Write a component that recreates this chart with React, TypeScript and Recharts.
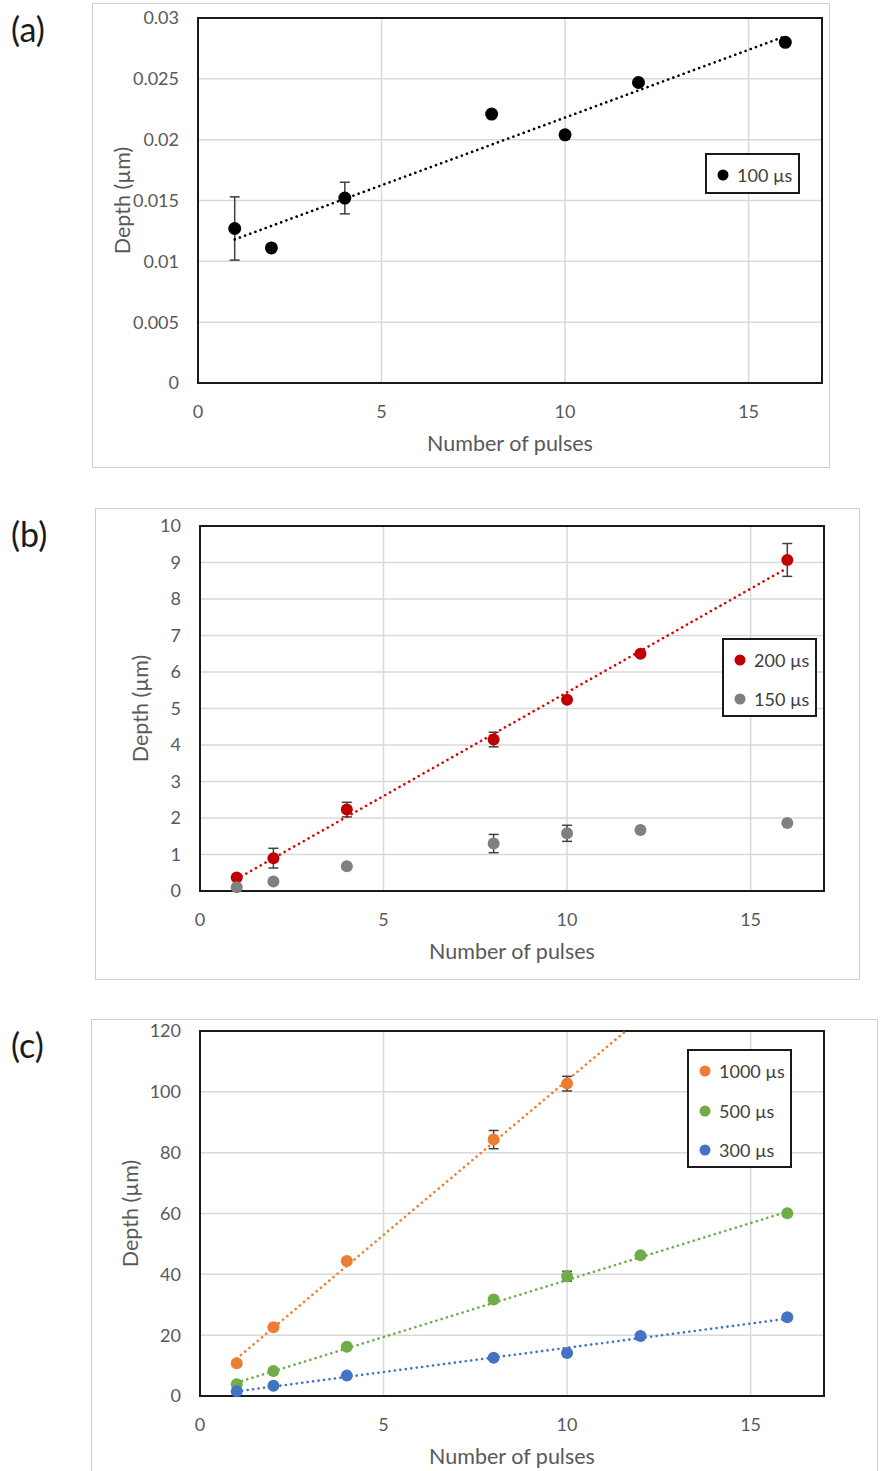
import React from "react";
import {
  ScatterChart,
  Scatter,
  XAxis,
  YAxis,
  CartesianGrid,
  ErrorBar,
  ReferenceArea,
  Legend,
  Label,
} from "recharts";

// pulse counts used in every panel
const pulses = [1, 2, 4, 8, 10, 12, 16];
const pulses1000 = [1, 2, 4, 8, 10];
const xTicks = [0, 5, 10, 15];

// (a) 100 µs
const depth100 = [0.0127, 0.0111, 0.0152, 0.0221, 0.0204, 0.0247, 0.028];
const err100 = [0.0026, 0, 0.0013, 0, 0, 0, 0];
const yTicksA = [0, 0.005, 0.01, 0.015, 0.02, 0.025, 0.03];

// (b) 200 µs / 150 µs
const depth200 = [0.37, 0.9, 2.23, 4.15, 5.24, 6.5, 9.07];
const err200 = [0, 0.27, 0.2, 0.2, 0, 0, 0.45];
const depth150 = [0.1, 0.26, 0.68, 1.3, 1.58, 1.67, 1.86];
const err150 = [0, 0, 0, 0.25, 0.22, 0, 0];
const yTicksB = [0, 1, 2, 3, 4, 5, 6, 7, 8, 9, 10];

// (c) 1000 µs / 500 µs / 300 µs
const depth1000 = [10.8, 22.6, 44.4, 84.3, 102.7];
const err1000 = [0, 0, 0, 3, 2.4];
const depth500 = [3.9, 8.2, 16.2, 31.7, 39.4, 46.3, 60.1];
const err500 = [0, 0, 0, 0, 1.6, 0, 0];
const depth300 = [1.6, 3.4, 6.7, 12.6, 14.1, 19.7, 25.9];
const err300 = [0, 0, 0, 0, 0.8, 0, 0];
const yTicksC = [0, 20, 40, 60, 80, 100, 120];

// linear trendline end points
const trendX = [1, 16];
const trend100 = [0.0118, 0.0285];
const trend200 = [0.33, 8.85];
const trend1000X = [1, 11.6];
const trend1000 = [12.3, 120];
const trend500 = [4.4, 60.6];
const trend300 = [1.5, 25.4];

const FONT = "Lato, 'Open Sans', sans-serif";
const TEXT = "#595959";

const rows = (xs: number[], ys: number[], errs?: number[]) =>
  xs.map((x, i) => ({ x, y: ys[i], err: errs ? errs[i] : 0 }));

type Series = { name: string; color: string; data: any[] };
type Trend = { color: string; data: any[] };

type PanelProps = {
  tag: string;
  left: number;
  top: number;
  width: number;
  height: number;
  yWidth: number;
  xHeight: number;
  mTop: number;
  mRight: number;
  yTicks: number[];
  yTitleX: number;
  dotR: number;
  series: Series[];
  trends: Trend[];
  legend: { left: number; top: number; width: number; height: number; first: number; step: number };
};

function Panel(p: PanelProps) {
  const yMax = p.yTicks[p.yTicks.length - 1];
  const order = p.series.map((s) => s.name);

  const renderLegend = (props: any) => {
    const items = (props.payload || [])
      .filter((it: any) => it.type !== "none" && order.includes(it.value))
      .sort((a: any, b: any) => order.indexOf(a.value) - order.indexOf(b.value));
    return (
      <div
        style={{
          position: "relative",
          width: p.legend.width,
          height: p.legend.height,
          border: "2px solid #1a1a1a",
          boxSizing: "border-box",
          background: "#fff",
          fontFamily: FONT,
          fontSize: 18,
          color: "#404040",
        }}
      >
        {items.map((it: any, i: number) => (
          <div
            key={it.value}
            style={{
              position: "absolute",
              left: 0,
              top: p.legend.first + i * p.legend.step - 12,
              height: 24,
              display: "flex",
              alignItems: "center",
            }}
          >
            <svg width={30} height={24} style={{ display: "block" }}>
              <circle cx={16} cy={12} r={5.5} fill={it.color} />
            </svg>
            <span style={{ whiteSpace: "nowrap" }}>{it.value}</span>
          </div>
        ))}
      </div>
    );
  };

  return (
    <>
      <div
        style={{
          position: "absolute",
          left: 11,
          top: p.top + 6,
          fontFamily: FONT,
          fontSize: 34,
          lineHeight: "40px",
          color: "#1a1a1a",
        }}
      >
        {p.tag}
      </div>
      <div
        style={{
          position: "absolute",
          left: p.left,
          top: p.top,
          width: p.width,
          height: p.height,
          border: "1px solid #d0d0d0",
          boxSizing: "border-box",
        }}
      >
        <div style={{ position: "absolute", left: -1, top: -1 }}>
          <ScatterChart
            width={p.width}
            height={p.height}
            margin={{ top: p.mTop, right: p.mRight, bottom: 0, left: 0 }}
            style={{ fontFamily: FONT }}
          >
            <CartesianGrid stroke="#d9d9d9" strokeWidth={1.5} />
            <XAxis
              type="number"
              dataKey="x"
              domain={[0, 17]}
              ticks={xTicks}
              height={p.xHeight}
              axisLine={false}
              tickLine={false}
              tickSize={0}
              tickMargin={22}
              tick={{ fill: TEXT, fontSize: 18, fontFamily: FONT }}
            >
              <Label
                value="Number of pulses"
                position="insideTop"
                offset={53}
                style={{ fill: TEXT, fontSize: 21.5, fontFamily: FONT }}
              />
            </XAxis>
            <YAxis
              type="number"
              dataKey="y"
              domain={[0, yMax]}
              ticks={p.yTicks}
              width={p.yWidth}
              axisLine={false}
              tickLine={false}
              tickSize={0}
              tickMargin={19}
              interval={0}
              tickFormatter={(v: number) => String(v)}
              tick={{ fill: TEXT, fontSize: 18, fontFamily: FONT }}
            >
              <Label
                value="Depth (µm)"
                angle={-90}
                position="insideLeft"
                offset={p.yTitleX}
                style={{ fill: TEXT, fontSize: 21.5, fontFamily: FONT, textAnchor: "middle" }}
              />
            </YAxis>
            <Legend
              layout="horizontal"
              verticalAlign="middle"
              align="center"
              content={renderLegend}
              wrapperStyle={{
                left: p.legend.left,
                top: p.legend.top,
                width: p.legend.width,
                height: p.legend.height,
              }}
            />
            {p.trends.map((t, i) => (
              <Scatter
                key={"trend" + i}
                data={t.data}
                legendType="none"
                isAnimationActive={false}
                fill={t.color}
                line={{
                  stroke: t.color,
                  strokeWidth: 2.6,
                  strokeDasharray: "0.1 5.4",
                  strokeLinecap: "round",
                }}
                shape={() => <g />}
              />
            ))}
            {p.series.map((s) => (
              <Scatter
                key={s.name}
                name={s.name}
                data={s.data}
                fill={s.color}
                isAnimationActive={false}
                shape={(props: any) => (
                  <circle cx={props.cx} cy={props.cy} r={p.dotR} fill={s.color} />
                )}
              >
                <ErrorBar
                  dataKey="err"
                  direction="y"
                  width={5}
                  stroke="#404040"
                  strokeWidth={1.5}
                  isAnimationActive={false}
                />
              </Scatter>
            ))}
            <ReferenceArea
              x1={0}
              x2={17}
              y1={0}
              y2={yMax}
              fill="none"
              fillOpacity={0}
              stroke="#1a1a1a"
              strokeWidth={2}
            />
          </ScatterChart>
        </div>
      </div>
    </>
  );
}

export default function App() {
  return (
    <div
      style={{
        position: "absolute",
        left: 0,
        top: 0,
        width: 883,
        height: 1471,
        overflow: "hidden",
        background: "#fff",
      }}
    >
      <Panel
        tag="(a)"
        left={92}
        top={3}
        width={738}
        height={465}
        yWidth={106}
        xHeight={85}
        mTop={15}
        mRight={8}
        yTicks={yTicksA}
        yTitleX={30}
        dotR={6.5}
        series={[{ name: "100 µs", color: "#000000", data: rows(pulses, depth100, err100) }]}
        trends={[{ color: "#000000", data: rows(trendX, trend100) }]}
        legend={{ left: 613, top: 150, width: 95, height: 41, first: 20, step: 40 }}
      />
      <Panel
        tag="(b)"
        left={95}
        top={508}
        width={765}
        height={472}
        yWidth={105}
        xHeight={89}
        mTop={18}
        mRight={36}
        yTicks={yTicksB}
        yTitleX={45}
        dotR={6}
        series={[
          { name: "200 µs", color: "#c00000", data: rows(pulses, depth200, err200) },
          { name: "150 µs", color: "#808080", data: rows(pulses, depth150, err150) },
        ]}
        trends={[{ color: "#e00000", data: rows(trendX, trend200) }]}
        legend={{ left: 627, top: 130, width: 95, height: 79, first: 20, step: 39 }}
      />
      <Panel
        tag="(c)"
        left={91}
        top={1019}
        width={787}
        height={453}
        yWidth={109}
        xHeight={76}
        mTop={12}
        mRight={54}
        yTicks={yTicksC}
        yTitleX={39}
        dotR={6}
        series={[
          { name: "1000 µs", color: "#ed7d31", data: rows(pulses1000, depth1000, err1000) },
          { name: "500 µs", color: "#70ad47", data: rows(pulses, depth500, err500) },
          { name: "300 µs", color: "#4472c4", data: rows(pulses, depth300, err300) },
        ]}
        trends={[
          { color: "#ed7d31", data: rows(trend1000X, trend1000) },
          { color: "#70ad47", data: rows(trendX, trend500) },
          { color: "#4472c4", data: rows(trendX, trend300) },
        ]}
        legend={{ left: 596, top: 30, width: 105, height: 119, first: 20, step: 39.5 }}
      />
    </div>
  );
}
